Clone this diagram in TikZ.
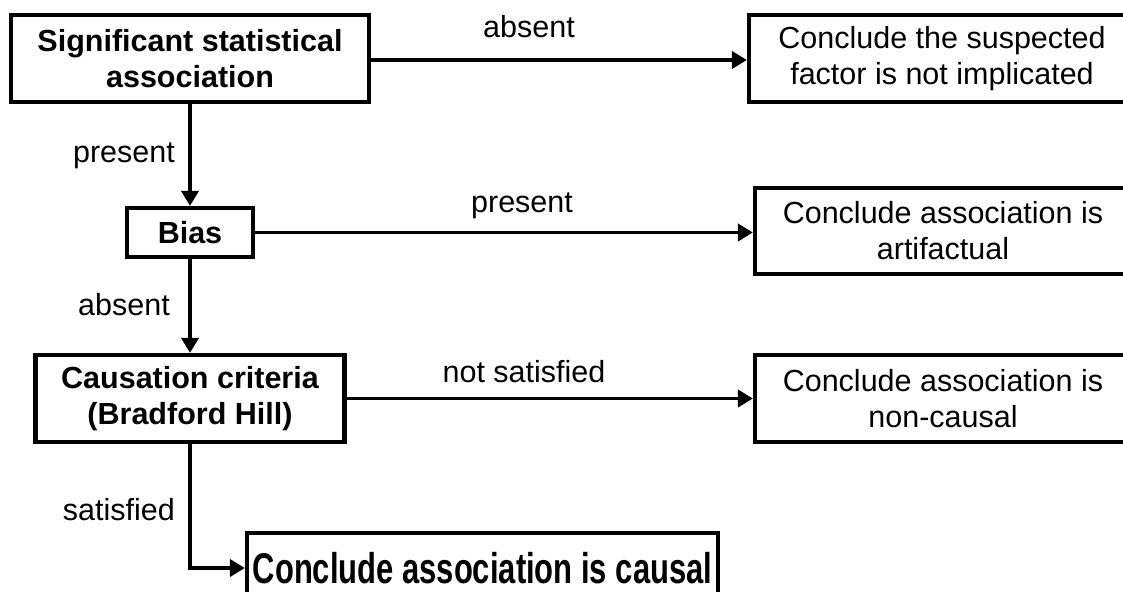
\documentclass[tikz,border=0pt]{standalone}
\usepackage{fontspec}
\usepackage{graphicx}
\setmainfont{Liberation Sans}
\usetikzlibrary{arrows.meta}

\tikzset{
  box/.style={draw=black, line width=4.2pt, fill=white, inner sep=0pt,
    align=center, font=\fontsize{30.5}{36}\selectfont},
  decision/.style={box, font=\fontsize{30.5}{36}\selectfont\bfseries},
  flow/.style={line width=3.9pt, -{Triangle[length=15pt,width=17pt]}},
  lbl/.style={inner sep=0pt, font=\fontsize{30.5}{36}\selectfont}
}

\begin{document}
\begin{tikzpicture}[x=1pt, y=-1pt]
  \clip (0,0) rectangle (1123,591);
  \fill[white] (0,0) rectangle (1123,591);

  % decision steps down the left side
  \node[decision, minimum width=358pt, minimum height=87pt] (sig) at (190,58.5)
    {Significant statistical\\association};
  \node[decision, minimum width=126pt, minimum height=49pt] (bias) at (190,232.5) {Bias};
  \node[decision, minimum width=309pt, minimum height=87pt] (caus) at (190,398.5)
    {Causation criteria\\(Bradford Hill)};

  % conclusions on the right
  \node[box, minimum width=386pt, minimum height=87pt] (r1) at (942,58.5)
    {Conclude the suspected\\factor is not implicated};
  \node[box, minimum width=376pt, minimum height=86pt] (r2) at (943,231)
    {Conclude association is\\artifactual};
  \node[box, minimum width=376pt, minimum height=87pt] (r3) at (943,398.5)
    {Conclude association is\\non-causal};

  % final conclusion, set in a larger, narrowed bold face
  \node[box, minimum width=471pt, minimum height=70pt] (fin) at (482.5,568)
    {\scalebox{0.72}[1]{\fontsize{43}{43}\selectfont\bfseries Conclude association is causal}};

  % connectors
  \draw[flow] (sig.east |- 0,60) -- (r1.west |- 0,60);
  \draw[flow] (sig) -- (bias);
  \draw[flow] (bias.east) -- (bias.east -| r2.west);
  \draw[flow] (bias) -- (caus);
  \draw[flow] (caus.east) -- (caus.east -| r3.west);
  \draw[flow] (caus.south) |- (fin.west);

  % branch labels
  \node[lbl, anchor=base] (l1) at (529,38) {absent};
  \node[lbl, anchor=base] (l2) at (522,212) {present};
  \node[lbl, anchor=base] (l3) at (524,382) {not satisfied};
  \node[lbl, anchor=base east] (l4) at (175,162) {present};
  \node[lbl, anchor=base east] (l5) at (170,315) {absent};
  \node[lbl, anchor=base east] (l6) at (175,520) {satisfied};
\end{tikzpicture}
\end{document}
